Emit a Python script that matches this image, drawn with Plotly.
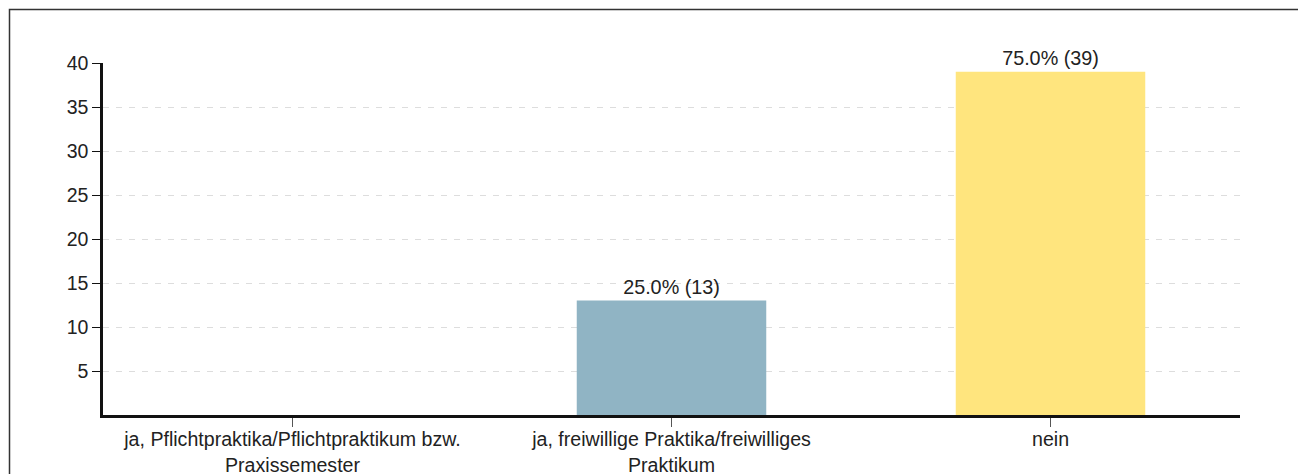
import plotly.graph_objects as go

categories = [
    "ja, Pflichtpraktika/Pflichtpraktikum bzw.<br>Praxissemester",
    "ja, freiwillige Praktika/freiwilliges<br>Praktikum",
    "nein",
]
counts = [0, 13, 39]
bar_colors = ["#90B4C4", "#90B4C4", "#FFE57E"]
y_ticks = [5, 10, 15, 20, 25, 30, 35, 40]

total = sum(counts)
labels = [f"{c / total * 100:.1f}% ({c})" if c > 0 else "" for c in counts]

FONT = "Liberation Sans, Arial, sans-serif"

fig = go.Figure(
    go.Bar(
        x=categories,
        y=counts,
        marker=dict(color=bar_colors, line=dict(width=0)),
        text=labels,
        textposition="outside",
        textfont=dict(family=FONT, size=19.8, color="#222"),
        cliponaxis=False,
        hoverinfo="skip",
    )
)

W, H = 1298, 474
L, T = 103, 63
R = W - 1240
B = H - 415
pw, ph = W - L - R, H - T - B

fig.update_layout(
    width=W,
    height=H,
    margin=dict(l=L, r=R, t=T, b=B, pad=0, autoexpand=False),
    paper_bgcolor="white",
    plot_bgcolor="white",
    bargap=0.5,
    showlegend=False,
    font=dict(family=FONT, size=19.5, color="#222"),
    xaxis=dict(
        automargin=False,
        showline=True,
        linecolor="#111",
        linewidth=2.5,
        ticks="outside",
        ticklen=9,
        tickwidth=1,
        tickcolor="#555",
        ticklabelstandoff=-4,
        showgrid=False,
        tickfont=dict(size=19.6, color="#222"),
    ),
    yaxis=dict(
        automargin=False,
        range=[0, 40],
        tickvals=y_ticks,
        showline=True,
        linecolor="#111",
        linewidth=2.5,
        ticks="outside",
        ticklen=8,
        tickwidth=1,
        tickcolor="#111",
        showgrid=True,
        gridcolor="#DDDDDD",
        gridwidth=1,
        griddash="6px,7px",
        zeroline=False,
        tickfont=dict(size=19.5, color="#222"),
    ),
    shapes=[
        dict(
            type="rect",
            xref="paper",
            yref="paper",
            x0=(9.5 - L) / pw,
            x1=(W + 20 - L) / pw,
            y0=-(B + 20) / ph,
            y1=1 + (T - 9.5) / ph,
            line=dict(color="#333", width=1.5),
            fillcolor="rgba(0,0,0,0)",
            layer="below",
        )
    ],
)

fig.write_html(
    "out.html",
    config={"displayModeBar": False},
    post_script="document.body.style.margin='0';document.body.style.overflow='hidden';",
)
